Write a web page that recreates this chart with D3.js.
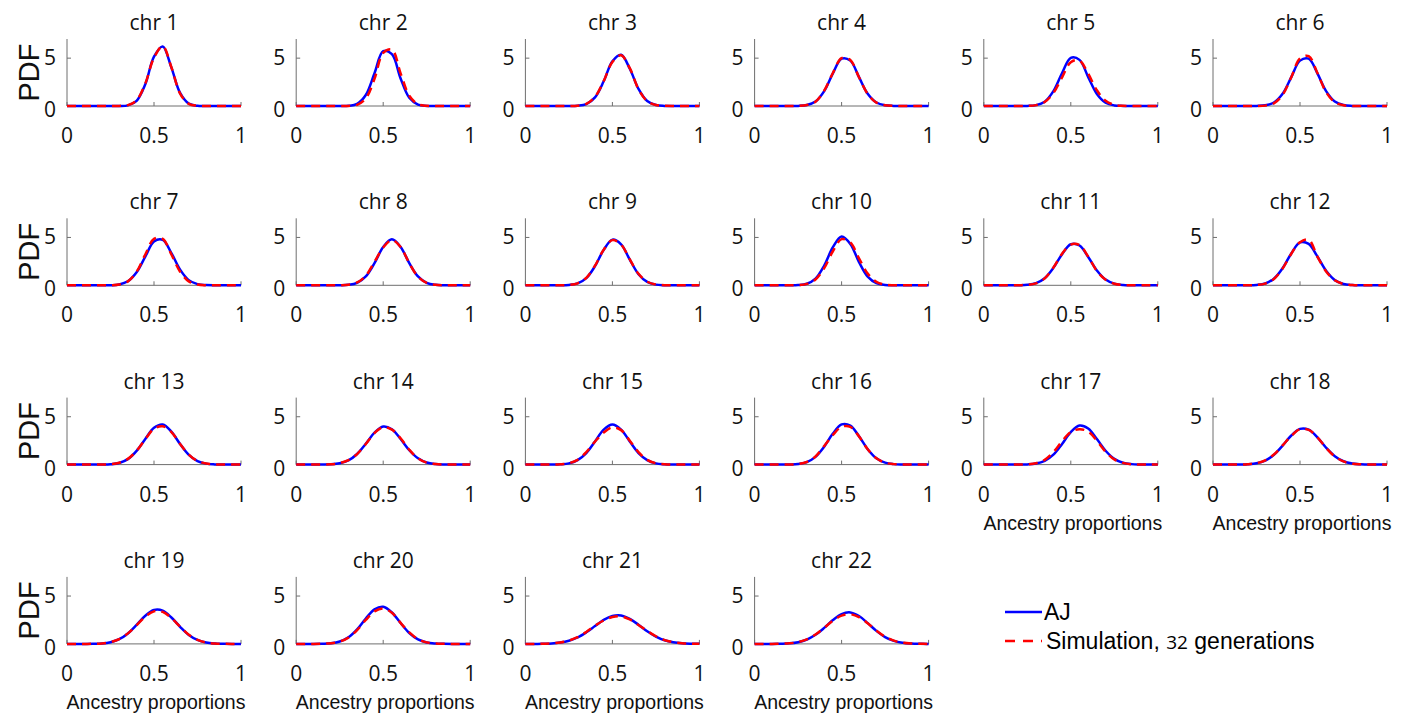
<!DOCTYPE html>
<html>
<head>
<meta charset="utf-8">
<script src="https://cdn.jsdelivr.net/npm/d3@7"></script>
<style>
  body { margin: 0; background: #fff; }
  svg { display: block; }
</style>
</head>
<body>
<svg></svg>
<script>
const width = 1408;
const height = 715;

// ancestry proportion grid (x) shared by all curves
const xGrid = [0, 0.05, 0.1, 0.15, 0.2, 0.25, 0.3, 0.35, 0.4, 0.45, 0.5,
               0.55, 0.6, 0.65, 0.7, 0.75, 0.8, 0.85, 0.9, 0.95, 1];

const chromosomes = ["chr 1", "chr 2", "chr 3", "chr 4", "chr 5", "chr 6",
                     "chr 7", "chr 8", "chr 9", "chr 10", "chr 11", "chr 12",
                     "chr 13", "chr 14", "chr 15", "chr 16", "chr 17", "chr 18",
                     "chr 19", "chr 20", "chr 21", "chr 22"];

// PDF values, one row per chromosome
const ajValues = [
  [0,0,0,0,0,0,0,0.07,0.54,2.27,5.15,6.22,4.01,1.37,0.25,0.02,0,0,0,0,0],
  [0,0,0,0,0,0,0.02,0.22,1.15,3.42,5.73,5.41,2.88,0.86,0.15,0.01,0,0,0,0,0],
  [0,0,0,0,0,0,0.03,0.2,0.9,2.58,4.67,5.35,3.89,1.79,0.52,0.1,0.01,0,0,0,0],
  [0,0,0,0,0,0.01,0.1,0.47,1.56,3.41,4.94,4.74,3.01,1.27,0.36,0.07,0.01,0,0,0,0],
  [0,0,0,0,0,0.01,0.09,0.45,1.55,3.45,5.03,4.82,3.02,1.25,0.34,0.06,0.01,0,0,0,0],
  [0,0,0,0,0,0.01,0.07,0.36,1.27,3.01,4.74,4.94,3.41,1.56,0.47,0.1,0.01,0,0,0,0],
  [0,0,0,0,0,0.01,0.09,0.42,1.36,3.0,4.58,4.75,3.37,1.64,0.54,0.12,0.02,0,0,0,0],
  [0,0,0,0,0,0.01,0.05,0.26,0.93,2.32,4.01,4.8,4.01,2.32,0.93,0.26,0.05,0.01,0,0,0],
  [0,0,0,0,0,0.04,0.2,0.75,2.0,3.7,4.77,4.28,2.68,1.16,0.35,0.07,0.01,0,0,0,0],
  [0,0,0,0,0,0.02,0.16,0.7,2.06,3.98,5.09,4.32,2.43,0.9,0.22,0.04,0,0,0,0,0],
  [0,0,0,0,0.01,0.05,0.22,0.74,1.82,3.25,4.29,4.16,2.96,1.55,0.6,0.17,0.03,0.01,0,0,0],
  [0,0,0,0,0,0.04,0.19,0.69,1.78,3.33,4.48,4.33,3.01,1.51,0.54,0.14,0.03,0,0,0,0],
  [0,0,0,0,0.01,0.04,0.17,0.57,1.43,2.68,3.84,4.18,3.44,2.15,1.02,0.37,0.1,0.02,0,0,0],
  [0,0,0,0.01,0.03,0.14,0.44,1.11,2.18,3.34,3.98,3.69,2.67,1.5,0.66,0.22,0.06,0.01,0,0,0],
  [0,0,0,0,0.03,0.13,0.47,1.21,2.42,3.66,4.2,3.66,2.42,1.21,0.47,0.13,0.03,0,0,0,0],
  [0,0,0,0,0.01,0.06,0.26,0.81,1.87,3.24,4.2,4.08,2.97,1.61,0.66,0.2,0.05,0.01,0,0,0],
  [0,0,0,0,0,0.02,0.11,0.4,1.05,2.16,3.39,4.08,3.77,2.67,1.45,0.6,0.19,0.05,0.01,0,0],
  [0,0,0,0.01,0.04,0.14,0.42,1.02,1.98,3.04,3.73,3.65,2.85,1.76,0.88,0.35,0.11,0.03,0,0,0],
  [0,0,0,0.01,0.05,0.18,0.49,1.09,1.99,2.94,3.54,3.47,2.76,1.79,0.94,0.41,0.14,0.04,0.01,0,0],
  [0,0,0,0.02,0.07,0.25,0.69,1.52,2.65,3.61,3.88,3.28,2.18,1.14,0.47,0.15,0.04,0.01,0,0,0],
  [0,0,0.02,0.05,0.14,0.33,0.67,1.21,1.86,2.51,2.92,2.97,2.61,2.0,1.32,0.77,0.38,0.17,0.06,0.02,0.01],
  [0,0,0,0.02,0.06,0.18,0.45,0.95,1.67,2.49,3.12,3.29,2.91,2.17,1.36,0.71,0.31,0.12,0.04,0.01,0]
];

const simValues = [
  [0,0,0,0,0,0,0.01,0.09,0.6,2.35,5.05,6.25,4.05,1.3,0.22,0.03,0,0,0,0,0],
  [0,0,0,0,0,0,0.01,0.12,0.79,2.84,5.55,5.9,3.41,1.07,0.18,0.02,0,0,0,0,0],
  [0,0,0,0,0,0,0.03,0.22,0.95,2.6,4.6,5.3,3.95,1.75,0.5,0.1,0.02,0,0,0,0],
  [0,0,0,0,0,0.01,0.1,0.45,1.6,3.45,5.0,4.8,3.0,1.25,0.35,0.07,0.01,0,0,0,0],
  [0,0,0,0,0,0.01,0.09,0.42,1.36,3.0,4.58,4.75,3.37,1.64,0.54,0.12,0.02,0,0,0,0],
  [0,0,0,0,0,0,0.04,0.28,1.16,3.01,4.97,5.21,3.45,1.45,0.39,0.07,0.01,0,0,0,0],
  [0,0,0,0,0,0.01,0.08,0.41,1.42,3.22,4.85,4.85,3.22,1.42,0.41,0.08,0.01,0,0,0,0],
  [0,0,0,0,0,0.01,0.06,0.3,1.0,2.45,3.95,4.72,4.0,2.3,0.9,0.25,0.05,0.01,0,0,0],
  [0,0,0,0,0,0.04,0.21,0.78,2.05,3.72,4.72,4.25,2.7,1.2,0.37,0.08,0.01,0,0,0,0],
  [0,0,0,0,0,0.02,0.15,0.61,1.79,3.56,4.82,4.47,2.82,1.22,0.36,0.07,0.01,0,0,0,0],
  [0,0,0,0,0.01,0.05,0.2,0.72,1.85,3.3,4.25,4.2,3.0,1.5,0.58,0.16,0.03,0.01,0,0,0],
  [0,0,0,0,0,0.04,0.18,0.66,1.75,3.3,4.5,4.75,3.0,1.45,0.52,0.14,0.03,0,0,0,0],
  [0,0,0,0,0.01,0.05,0.19,0.6,1.45,2.65,3.75,4.0,3.4,2.15,1.05,0.38,0.11,0.02,0,0,0],
  [0,0,0,0.01,0.03,0.15,0.46,1.1,2.15,3.3,3.9,3.65,2.75,1.55,0.65,0.21,0.06,0.01,0,0,0],
  [0,0,0,0,0.03,0.14,0.5,1.3,2.4,3.35,3.9,3.6,2.5,1.3,0.5,0.14,0.03,0,0,0,0],
  [0,0,0,0,0.01,0.06,0.27,0.85,1.95,3.1,3.95,3.95,2.95,1.6,0.66,0.2,0.05,0.01,0,0,0],
  [0,0,0,0,0,0.03,0.14,0.5,1.3,2.45,3.4,3.7,3.45,2.5,1.35,0.55,0.18,0.04,0.01,0,0],
  [0,0,0,0.01,0.04,0.15,0.44,1.05,2.0,3.0,3.7,3.62,2.85,1.75,0.85,0.33,0.1,0.03,0,0,0],
  [0,0,0,0.01,0.05,0.19,0.5,1.1,1.95,2.85,3.4,3.35,2.7,1.8,0.95,0.42,0.15,0.04,0.01,0,0],
  [0,0,0,0.02,0.07,0.24,0.66,1.45,2.5,3.4,3.7,3.25,2.2,1.2,0.5,0.16,0.04,0.01,0,0,0],
  [0,0,0.02,0.05,0.15,0.35,0.7,1.25,1.9,2.45,2.82,2.88,2.55,1.98,1.35,0.8,0.4,0.18,0.06,0.02,0.01],
  [0,0,0,0.02,0.06,0.19,0.47,0.98,1.68,2.42,2.95,3.1,2.8,2.15,1.4,0.75,0.34,0.13,0.04,0.01,0]
];

const xTicks = [0, 0.5, 1];
const yTicks = [0, 5];
const xLabel = "Ancestry proportions";
const yLabel = "PDF";
const legendLabels = ["AJ", "Simulation, "];

const nCols = 6;
const panelW = 174;
const panelH = 67;
const left0 = 67, colStep = 229.2;
const base0 = 106, rowStep = 179.3;

const tickFont = "'Open Sans', sans-serif";
const labelFont = "'Liberation Sans', Arial, sans-serif";
const axisColor = "#6e6e6e";

const svg = d3.select("svg")
    .attr("width", width)
    .attr("height", height);

const x = d3.scaleLinear().domain([0, 1]).range([0, panelW]);
const y = d3.scaleLinear().domain([0, 7]).range([panelH, 0]);

const line = d3.line()
    .x((d, i) => x(xGrid[i]))
    .y(d => y(Math.max(0, d)))
    .curve(d3.curveCatmullRom.alpha(0.5));

chromosomes.forEach((name, i) => {
    const col = i % nCols;
    const row = Math.floor(i / nCols);
    const g = svg.append("g")
        .attr("transform", `translate(${left0 + col * colStep},${base0 + row * rowStep - panelH})`);

    // axes
    g.append("line")
        .attr("x1", 0).attr("x2", 0)
        .attr("y1", 0).attr("y2", panelH)
        .attr("stroke", axisColor).attr("stroke-width", 1);
    g.append("line")
        .attr("x1", 0).attr("x2", panelW)
        .attr("y1", panelH).attr("y2", panelH)
        .attr("stroke", axisColor).attr("stroke-width", 1);

    g.selectAll(".xtick")
        .data(xTicks)
        .enter().append("line")
        .attr("x1", d => x(d)).attr("x2", d => x(d))
        .attr("y1", panelH).attr("y2", panelH - 4)
        .attr("stroke", axisColor);
    g.selectAll(".ytick")
        .data(yTicks)
        .enter().append("line")
        .attr("x1", 0).attr("x2", 4)
        .attr("y1", d => y(d)).attr("y2", d => y(d))
        .attr("stroke", axisColor);

    g.selectAll(".xlab")
        .data(xTicks)
        .enter().append("text")
        .attr("x", d => x(d))
        .attr("y", panelH + 37)
        .attr("text-anchor", "middle")
        .style("font-family", tickFont)
        .style("font-size", "21px")
        .attr("fill", "#111")
        .text(d => d);

    g.selectAll(".ylab")
        .data(yTicks)
        .enter().append("text")
        .attr("x", -11)
        .attr("y", d => y(d) + (d === 0 ? 11 : 7))
        .attr("text-anchor", "end")
        .style("font-family", tickFont)
        .style("font-size", "21px")
        .attr("fill", "#111")
        .text(d => d);

    // title
    g.append("text")
        .attr("x", panelW / 2)
        .attr("y", -9)
        .attr("text-anchor", "middle")
        .style("font-family", tickFont)
        .style("font-size", "21px")
        .attr("fill", "#111")
        .text(name);

    if (col === 0) {
        g.append("text")
            .attr("transform", `translate(-28,${panelH / 2}) rotate(-90)`)
            .attr("text-anchor", "middle")
            .style("font-family", labelFont)
            .style("font-size", "29px")
            .attr("fill", "#111")
            .text(yLabel);
    }

    if (i + nCols >= chromosomes.length) {
        g.append("text")
            .attr("x", panelW / 2 + 2)
            .attr("y", panelH + 65)
            .attr("text-anchor", "middle")
            .style("font-family", labelFont)
            .style("font-size", "19.5px")
            .attr("fill", "#111")
            .text(xLabel);
    }

    g.append("path")
        .datum(ajValues[i])
        .attr("d", line)
        .attr("fill", "none")
        .attr("stroke", "#0000ff")
        .attr("stroke-width", 2.5);

    g.append("path")
        .datum(simValues[i])
        .attr("d", line)
        .attr("fill", "none")
        .attr("stroke", "#ff0000")
        .attr("stroke-width", 2.5)
        .attr("stroke-dasharray", "9,6");
});

// legend
const legend = svg.append("g").attr("transform", "translate(1005,612)");
legend.append("line")
    .attr("x1", 0).attr("x2", 37).attr("y1", 0).attr("y2", 0)
    .attr("stroke", "#0000ff").attr("stroke-width", 2.5);
legend.append("text")
    .attr("x", 39).attr("y", 8)
    .style("font-family", labelFont)
    .style("font-size", "23px")
    .text(legendLabels[0]);
legend.append("line")
    .attr("x1", 0).attr("x2", 37).attr("y1", 29).attr("y2", 29)
    .attr("stroke", "#ff0000").attr("stroke-width", 2.5)
    .attr("stroke-dasharray", "10,8");
const simText = legend.append("text")
    .attr("x", 41).attr("y", 37)
    .style("font-family", labelFont)
    .style("font-size", "23px");
simText.append("tspan").text(legendLabels[1]);
simText.append("tspan").style("font-family", tickFont).style("font-size", "19px").text("32");
simText.append("tspan").text(" generations");
</script>
</body>
</html>
